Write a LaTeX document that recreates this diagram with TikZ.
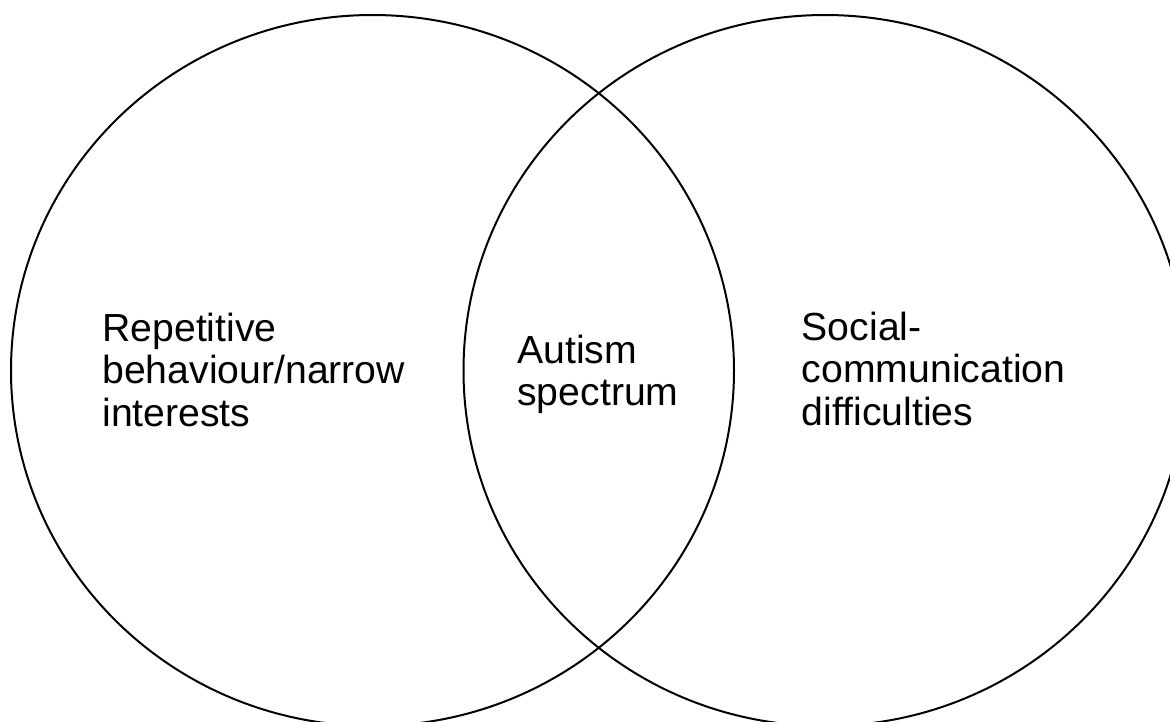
\documentclass[tikz,border=0pt]{standalone}
\usepackage{fontspec}
\setmainfont{Liberation Sans}
\usetikzlibrary{positioning,shapes.geometric}

\begin{document}
\begin{tikzpicture}[
set/.style={ellipse,draw,line width=0.04cm,inner sep=0pt,minimum width=14.46cm,minimum height=14.22cm},
lbl/.style={align=left,anchor=north west,inner sep=0pt,font=\fontsize{22.3}{24}\selectfont}]

\useasboundingbox (0,0) rectangle (23.4,-14.42);
\clip (0,0) rectangle (23.4,-14.42);
\node[set] (rep) at (7.45,-7.41) {};
\node[set] (soc) at (16.5,-7.41) {};
\node[lbl] (reptext) at (2.04,-6.26) {Repetitive\\behaviour/narrow\\interests};
\node[lbl] (aut) at (10.34,-6.7) {Autism\\spectrum};
\node[lbl] (soctext) at (16.03,-6.24) {Social-\\communication\\difficulties};
\end{tikzpicture}
\end{document}
